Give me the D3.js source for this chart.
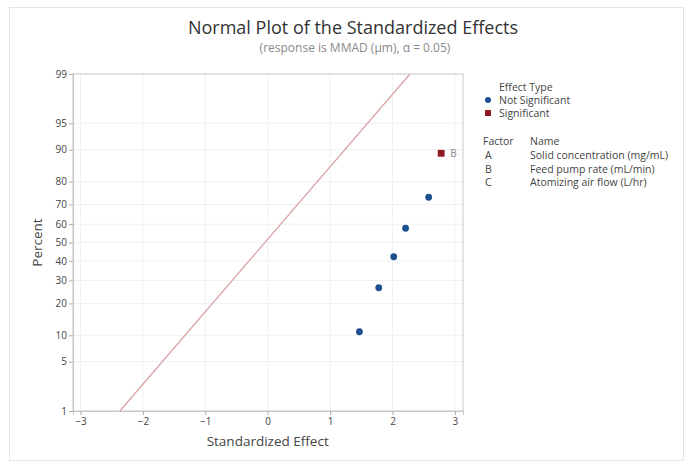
<!DOCTYPE html>
<html>
<head>
<meta charset="utf-8">
<script src="https://cdn.jsdelivr.net/npm/d3@7"></script>
<style>
  html, body { margin: 0; padding: 0; background: #fff; }
  svg { display: block; font-family: "Open Sans", "Noto Sans", sans-serif; }
</style>
</head>
<body>
<svg id="chart" width="690" height="466"></svg>
<script>
// Standardized effects and their normal-plot percentiles
const effectValues = [1.47, 1.78, 2.02, 2.21, 2.58, 2.78];
const effectPercents = [10.9, 26.6, 42.2, 57.8, 73.4, 89.1];
const effectSignificant = [false, false, false, false, false, true];
const effectLabels = ["", "", "", "", "", "B"];

// Reference line endpoints (effect, percent)
const lineEffects = [-2.37, 2.28];
const linePercents = [1, 99];

// Axis ticks
const xTicks = [-3, -2, -1, 0, 1, 2, 3];
const yTicks = [1, 5, 10, 20, 30, 40, 50, 60, 70, 80, 90, 95, 99];

// Legend content
const effectTypes = ["Not Significant", "Significant"];
const factorCodes = ["A", "B", "C"];
const factorNames = ["Solid concentration (mg/mL)", "Feed pump rate (mL/min)", "Atomizing air flow (L/hr)"];

// Inverse standard normal CDF (Acklam's rational approximation)
function probit(p) {
  const a = [-3.969683028665376e+01, 2.209460984245205e+02, -2.759285104469687e+02, 1.383577518672690e+02, -3.066479806614716e+01, 2.506628277459239e+00];
  const b = [-5.447609879822406e+01, 1.615858368580409e+02, -1.556989798598866e+02, 6.680131188771972e+01, -1.328068155288572e+01];
  const c = [-7.784894002430293e-03, -3.223964580411365e-01, -2.400758277161838e+00, -2.549732539343734e+00, 4.374664141464968e+00, 2.938163982698783e+00];
  const d = [7.784695709041462e-03, 3.224671290700398e-01, 2.445134137142996e+00, 3.754408661907416e+00];
  const pl = 0.02425;
  let q, r;
  if (p < pl) {
    q = Math.sqrt(-2 * Math.log(p));
    return (((((c[0]*q+c[1])*q+c[2])*q+c[3])*q+c[4])*q+c[5]) / ((((d[0]*q+d[1])*q+d[2])*q+d[3])*q+1);
  } else if (p <= 1 - pl) {
    q = p - 0.5; r = q * q;
    return (((((a[0]*r+a[1])*r+a[2])*r+a[3])*r+a[4])*r+a[5])*q / (((((b[0]*r+b[1])*r+b[2])*r+b[3])*r+b[4])*r+1);
  } else {
    q = Math.sqrt(-2 * Math.log(1 - p));
    return -(((((c[0]*q+c[1])*q+c[2])*q+c[3])*q+c[4])*q+c[5]) / ((((d[0]*q+d[1])*q+d[2])*q+d[3])*q+1);
  }
}

const svg = d3.select("#chart");
const plot = { left: 73, right: 463, top: 74, bottom: 411 };

// Outer frame
svg.append("rect").attr("x", 9.5).attr("y", 7.5).attr("width", 674).attr("height", 453)
  .attr("fill", "#fff").attr("stroke", "#e4e4e4");

const x = d3.scaleLinear().domain([-3.12, 3.13]).range([plot.left, plot.right]);
const zScale = d3.scaleLinear().domain([probit(0.01), probit(0.99)]).range([plot.bottom, plot.top]);
const y = p => zScale(probit(p / 100));

// Gridlines
const g = svg.append("g");
g.selectAll(".vg").data(xTicks).join("line")
  .attr("x1", d => x(d)).attr("x2", d => x(d))
  .attr("y1", plot.top).attr("y2", plot.bottom)
  .attr("stroke", "#f1f1f1");
g.selectAll(".hg").data(yTicks.slice(1, -1)).join("line")
  .attr("x1", plot.left).attr("x2", plot.right)
  .attr("y1", d => y(d)).attr("y2", d => y(d))
  .attr("stroke", "#f1f1f1");

// Plot frame
svg.append("rect")
  .attr("x", plot.left).attr("y", plot.top)
  .attr("width", plot.right - plot.left).attr("height", plot.bottom - plot.top)
  .attr("fill", "none").attr("stroke", "#c8c8c8");

// Axes
const xAxis = svg.append("g").attr("transform", `translate(0,${plot.bottom})`)
  .call(d3.axisBottom(x).tickValues(xTicks).tickSize(4).tickPadding(3).tickFormat(d3.format("d")));
const yAxis = svg.append("g").attr("transform", `translate(${plot.left},0)`)
  .call(d3.axisLeft(zScale).tickValues(yTicks.map(t => probit(t / 100))).tickSize(4).tickPadding(2)
    .tickFormat((d, i) => yTicks[i]));
[xAxis, yAxis].forEach(a => {
  a.select(".domain").attr("stroke", "#c8c8c8");
  a.selectAll(".tick line").attr("stroke", "#aaa");
  a.selectAll(".tick text").attr("fill", "#444").attr("font-size", 10)
    .attr("font-family", "'Open Sans', sans-serif");
});

// Reference line
svg.append("line")
  .attr("x1", x(lineEffects[0])).attr("y1", y(linePercents[0]))
  .attr("x2", x(lineEffects[1])).attr("y2", y(linePercents[1]))
  .attr("stroke", "#d9a3a6").attr("stroke-width", 1.3);

// Points
const pts = effectValues.map((v, i) => ({ v, p: effectPercents[i], sig: effectSignificant[i], label: effectLabels[i] }));
svg.selectAll(".ns").data(pts.filter(d => !d.sig)).join("circle")
  .attr("cx", d => x(d.v)).attr("cy", d => y(d.p)).attr("r", 3.4)
  .attr("fill", "#1d4f91");
svg.selectAll(".sg").data(pts.filter(d => d.sig)).join("rect")
  .attr("x", d => x(d.v) - 3.4).attr("y", d => y(d.p) - 3.4)
  .attr("width", 6.8).attr("height", 6.8)
  .attr("fill", "#8e1b22");
svg.selectAll(".lbl").data(pts.filter(d => d.label)).join("text")
  .attr("x", d => x(d.v) + 9).attr("y", d => y(d.p) + 3.5)
  .attr("font-size", 10).attr("fill", "#888").text(d => d.label);

// Titles
svg.append("text").attr("x", 353).attr("y", 34).attr("text-anchor", "middle")
  .attr("font-size", 18).attr("fill", "#333").text("Normal Plot of the Standardized Effects");
svg.append("text").attr("x", 355).attr("y", 52).attr("text-anchor", "middle")
  .attr("font-size", 12).attr("fill", "#8a8a8a").text("(response is MMAD (μm), α = 0.05)");

// Axis titles
svg.append("text").attr("x", x(0)).attr("y", 446).attr("text-anchor", "middle")
  .attr("font-size", 13.5).attr("fill", "#444").text("Standardized Effect");
svg.append("text").attr("transform", `translate(42,${zScale(0)}) rotate(-90)`)
  .attr("text-anchor", "middle").attr("font-size", 13.5).attr("fill", "#444").text("Percent");

// Legend: effect type
const lg = svg.append("g").attr("font-size", 10.5).attr("fill", "#444");
lg.append("text").attr("x", 499).attr("y", 91).text("Effect Type");
effectTypes.forEach((t, i) => {
  const cy = 100 + i * 13;
  if (i === 0) lg.append("circle").attr("cx", 488).attr("cy", cy).attr("r", 3).attr("fill", "#1d4f91");
  else lg.append("rect").attr("x", 485).attr("y", cy - 3).attr("width", 6).attr("height", 6).attr("fill", "#8e1b22");
  lg.append("text").attr("x", 499).attr("y", cy + 4).text(t);
});

// Legend: factor names
lg.append("text").attr("x", 483).attr("y", 145).text("Factor");
lg.append("text").attr("x", 530).attr("y", 145).text("Name");
factorCodes.forEach((c, i) => {
  const by = 159 + i * 13.5;
  lg.append("text").attr("x", 485).attr("y", by).text(c);
  lg.append("text").attr("x", 530).attr("y", by).text(factorNames[i]);
});
</script>
</body>
</html>
